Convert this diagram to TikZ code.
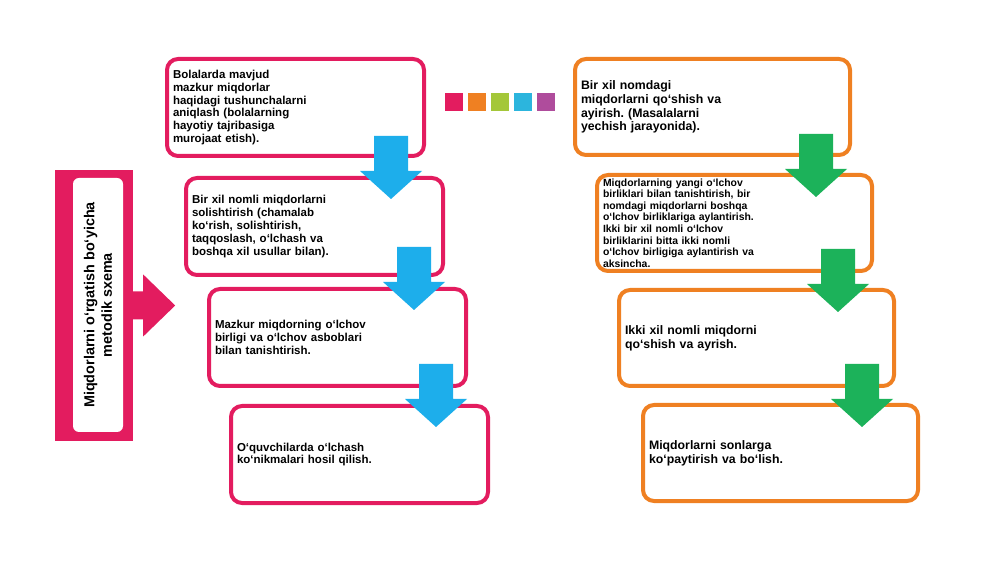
\documentclass[tikz,border=0pt]{standalone}
\usepackage{fontspec}
\setmainfont{Liberation Sans}
\frenchspacing
\usetikzlibrary{positioning}
\definecolor{rose}{HTML}{E31C5F}
\definecolor{tangerine}{HTML}{EF8022}
\definecolor{leaf}{HTML}{A4C739}
\definecolor{sky}{HTML}{2CB5DD}
\definecolor{plum}{HTML}{AF4C9C}
\definecolor{bluearr}{HTML}{1DAEEB}
\definecolor{greenarr}{HTML}{1CB25A}

\begin{document}
\begin{tikzpicture}[x=1pt, y=1pt,
  card/.style = {draw, fill=white, line width=4pt, rounded corners=11pt, outer sep=0pt, inner xsep=6pt, align=left},
  lbox/.style = {card, draw=rose, minimum width=257pt, minimum height=97pt, text width=245pt, font=\bfseries\fontsize{11.5}{12.8}\selectfont},
  rbox/.style = {card, draw=tangerine, minimum width=275pt, minimum height=96pt, text width=263pt, font=\bfseries\fontsize{12.3}{13.8}\selectfont},
  chip/.style = {minimum size=18pt, inner sep=0pt},
  blockdown/.pic = {\fill[#1] (0,0) -- (31,28) -- (17,28) -- (17,63) -- (-17,63) -- (-17,28) -- (-31,28) -- cycle;}]
\useasboundingbox (0,0) rectangle (1000,562);

\node[fill=rose, minimum width=78pt, minimum height=271pt] (bar) at (94,256.5) {};
\node[fill=white, rounded corners=6pt, rotate=90, minimum width=254pt, minimum height=50pt, align=center, font=\bfseries\fontsize{14.4}{17.5}\selectfont] (title) at (98,257) {Miqdorlarni o‘rgatish bo‘yicha\\ metodik sxema};
\fill[rose] ([shift={(-3,14)}]bar.east) -- ++(13,0) -- ++(0,17) -- ++(32,-31) -- ++(-32,-31) -- ++(0,17) -- ++(-13,0) -- cycle;

\node[lbox] (l1) at (295.5,454.5) {Bolalarda mavjud\\ mazkur miqdorlar\\ haqidagi tushunchalarni\\ aniqlash (bolalarning\\ hayotiy tajribasiga\\ murojaat etish).};
\node[lbox] (l2) [below=22pt of l1, xshift=19pt] {Bir xil nomli miqdorlarni\\ solishtirish (chamalab\\ ko‘rish, solishtirish,\\ taqqoslash, o‘lchash va\\ boshqa xil usullar bilan).};
\node[lbox] (l3) [below=14pt of l2, xshift=23pt] {Mazkur miqdorning o‘lchov\\ birligi va o‘lchov asboblari\\ bilan tanishtirish.};
\node[lbox] (l4) [below=20pt of l3, xshift=22pt] {O‘quvchilarda o‘lchash\\ ko‘nikmalari hosil qilish.};

\node[rbox] (r1) at (712.5,455) {Bir xil nomdagi\\ miqdorlarni qo‘shish va\\ ayirish. (Masalalarni\\ yechish jarayonida).};
\node[rbox, font=\bfseries\fontsize{10.4}{11.6}\selectfont] (r2) [below=20pt of r1, xshift=22pt] {Miqdorlarning yangi o‘lchov\\ birliklari bilan tanishtirish, bir\\ nomdagi miqdorlarni boshqa\\ o‘lchov birliklariga aylantirish.\\ Ikki bir xil nomli o‘lchov\\ birliklarini bitta ikki nomli\\ o‘lchov birligiga aylantirish va\\ aksincha.};
\node[rbox] (r3) [below=19pt of r2, xshift=22pt] {Ikki xil nomli miqdorni\\ qo‘shish va ayrish.};
\node[rbox] (r4) [below=19pt of r3, xshift=24pt] {Miqdorlarni sonlarga\\ ko‘paytirish va bo‘lish.};

\foreach \c [count=\i] in {rose,tangerine,leaf,sky,plum}
  \node[chip, fill=\c] (chip\i) at (431+23*\i,459.5) {};

\pic at ([shift={(-52,-21)}]l2.north east) {blockdown=bluearr};
\pic at ([shift={(-52,-21)}]l3.north east) {blockdown=bluearr};
\pic at ([shift={(-52,-21)}]l4.north east) {blockdown=bluearr};
\pic at ([shift={(-56,-22)}]r2.north east) {blockdown=greenarr};
\pic at ([shift={(-56,-22)}]r3.north east) {blockdown=greenarr};
\pic at ([shift={(-56,-22)}]r4.north east) {blockdown=greenarr};
\end{tikzpicture}
\end{document}
